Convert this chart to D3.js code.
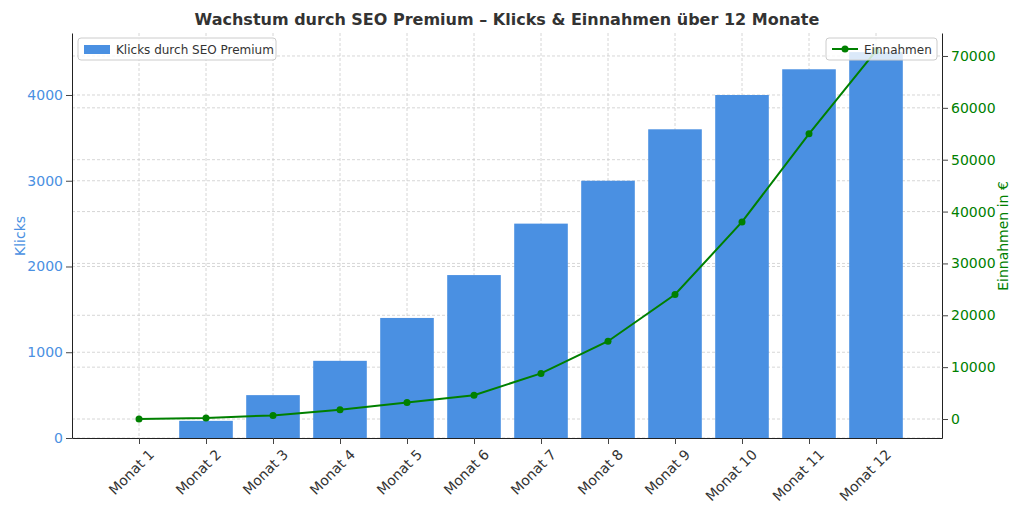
<!DOCTYPE html><html><head><meta charset="utf-8"><script src="https://cdn.jsdelivr.net/npm/d3@7"></script>
<style>body{margin:0;background:#fff;font-family:"DejaVu Sans",sans-serif}</style></head><body><svg id="c" width="1024" height="512"></svg>
<script>
const months=["Monat 1","Monat 2","Monat 3","Monat 4","Monat 5","Monat 6","Monat 7","Monat 8","Monat 9","Monat 10","Monat 11","Monat 12"];
const clicks=[0,200,500,900,1400,1900,2500,3000,3600,4000,4300,4500];
const revenue=[0,200,700,1800,3200,4600,8800,15000,24000,38000,55000,71000];
const leftTicks=[0,1000,2000,3000,4000];
const rightTicks=[0,10000,20000,30000,40000,50000,60000,70000];
const svg=d3.select("#c");
const L=72,R=942,T=33,B=438;
const x=d3.scaleLinear().domain([-1,11.985]).range([L,R]);
const yl=d3.scaleLinear().domain([0,4723]).range([B,T]);
const yr=d3.scaleLinear().domain([-3660,74430]).range([B,T]);
const bw=(x(1)-x(0))*0.8;
const g=svg.append("g");
const grid=g.append("g").attr("stroke","#ccc").attr("stroke-dasharray","3,2").attr("stroke-width",0.8);
months.forEach((m,i)=>grid.append("line").attr("x1",x(i)).attr("x2",x(i)).attr("y1",T).attr("y2",B));
leftTicks.forEach(t=>grid.append("line").attr("x1",L).attr("x2",R).attr("y1",yl(t)).attr("y2",yl(t)));
rightTicks.forEach(t=>grid.append("line").attr("x1",L).attr("x2",R).attr("y1",yr(t)).attr("y2",yr(t)));
g.selectAll("rect.b").data(clicks).join("rect").attr("x",(d,i)=>x(i)-bw/2).attr("width",bw).attr("y",d=>yl(d)).attr("height",d=>B-yl(d)).attr("fill","#4a90e2");
const line=d3.line().x((d,i)=>x(i)).y(d=>yr(d));
g.append("path").datum(revenue).attr("d",line).attr("fill","none").attr("stroke","green").attr("stroke-width",2);
g.selectAll("circle").data(revenue).join("circle").attr("cx",(d,i)=>x(i)).attr("cy",d=>yr(d)).attr("r",3.5).attr("fill","green");
const ax=svg.append("g").attr("transform",`translate(0,${B})`).call(d3.axisBottom(x).tickValues(d3.range(12)).tickFormat(i=>months[i]).tickSizeOuter(0));
ax.selectAll("text").style("font-size","14px").style("font-family","DejaVu Sans").attr("fill","#333").attr("text-anchor","end").attr("y",0).attr("dy","0.35em").attr("transform","translate(12,14) rotate(-45)");
const al=svg.append("g").attr("transform",`translate(${L},0)`).call(d3.axisLeft(yl).tickValues(leftTicks).tickFormat(d3.format("d")).tickSizeOuter(0));
al.selectAll("text").style("font-size","14px").style("font-family","DejaVu Sans").attr("fill","#4a90e2");
const ar=svg.append("g").attr("transform",`translate(${R},0)`).call(d3.axisRight(yr).tickValues(rightTicks).tickFormat(d3.format("d")).tickSizeOuter(0));
ar.selectAll("text").style("font-size","14px").style("font-family","DejaVu Sans").attr("fill","green");
[ax,al,ar].forEach(a=>{a.select(".domain").attr("stroke","#222");a.selectAll(".tick line").attr("stroke","#444");});
svg.append("text").attr("x",507).attr("y",25).attr("text-anchor","middle").attr("font-size",16).attr("font-weight","bold").attr("fill","#333").text("Wachstum durch SEO Premium – Klicks & Einnahmen über 12 Monate");
svg.append("text").attr("transform","translate(25,236) rotate(-90)").attr("text-anchor","middle").attr("font-size",14).attr("fill","#4a90e2").text("Klicks");
svg.append("text").attr("transform","translate(1008,236) rotate(-90)").attr("text-anchor","middle").attr("font-size",14).attr("fill","green").text("Einnahmen in €");
const l1=svg.append("g").attr("transform","translate(78,38)");
l1.append("rect").attr("width",198).attr("height",22).attr("rx",3).attr("fill","#fff").attr("fill-opacity",0.8).attr("stroke","#ccc");
l1.append("rect").attr("x",6).attr("y",7).attr("width",26).attr("height",9).attr("fill","#4a90e2");
l1.append("text").attr("x",38).attr("y",15.5).attr("font-size",12).attr("fill","#333").text("Klicks durch SEO Premium");
const l2=svg.append("g").attr("transform","translate(826,38)");
l2.append("rect").attr("width",111).attr("height",22).attr("rx",3).attr("fill","#fff").attr("fill-opacity",0.8).attr("stroke","#ccc");
l2.append("line").attr("x1",6).attr("x2",32).attr("y1",11).attr("y2",11).attr("stroke","green").attr("stroke-width",2);
l2.append("circle").attr("cx",19).attr("cy",11).attr("r",3.5).attr("fill","green");
l2.append("text").attr("x",38).attr("y",15.5).attr("font-size",12).attr("fill","#333").text("Einnahmen");
</script></body></html>
